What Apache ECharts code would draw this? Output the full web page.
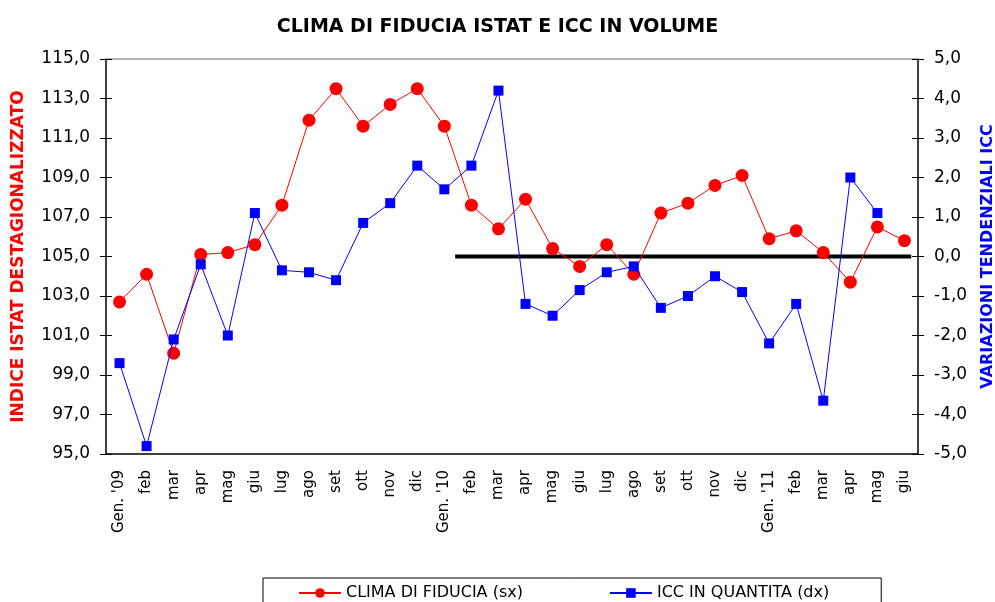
<!DOCTYPE html>
<html><head><meta charset="utf-8">
<script src="https://cdn.jsdelivr.net/npm/echarts@6/dist/echarts.min.js"></script>
<style>html,body{margin:0;padding:0;background:#fff}#c{width:995px;height:602px}</style>
</head><body><div id="c"></div>
<script>
const categories = ["Gen. '09","feb","mar","apr","mag","giu","lug","ago","set","ott","nov","dic",
  "Gen. '10","feb","mar","apr","mag","giu","lug","ago","set","ott","nov","dic",
  "Gen. '11","feb","mar","apr","mag","giu"];
const climaFiducia = [102.7,104.1,100.1,105.1,105.2,105.6,107.6,111.9,113.5,111.6,112.7,113.5,
  111.6,107.6,106.4,107.9,105.4,104.5,105.6,104.1,107.2,107.7,108.6,109.1,
  105.9,106.3,105.2,103.7,106.5,105.8];
const iccQuantita = [-2.7,-4.8,-2.1,-0.2,-2.0,1.1,-0.35,-0.4,-0.6,0.85,1.35,2.3,
  1.7,2.3,4.2,-1.2,-1.5,-0.85,-0.4,-0.25,-1.3,-1.0,-0.5,-0.9,
  -2.2,-1.2,-3.65,2.0,1.1,null];
const zeroLine = [[12.9,0],[29.75,0]];
const leftTicks = {min:95, max:115, interval:2};
const rightTicks = {min:-5, max:5, interval:1};

const FONT = 'DejaVu Sans';
const fmt = v => v.toFixed(1).replace('.', ',');
const chart = echarts.init(document.getElementById('c'), null, {renderer:'canvas'});
const tickOnly = (pos, r) => ({
  type:'value', position:pos, min:r.min, max:r.max, interval:r.interval,
  axisLine:{show:false}, axisLabel:{show:false}, splitLine:{show:false},
  axisTick:{show:true, inside:true, length:6, lineStyle:{color:'#000'}}
});
chart.setOption({
  animation:false,
  backgroundColor:'#fff',
  title:{text:'CLIMA DI FIDUCIA ISTAT E ICC IN VOLUME', left:'center', top:13,
    textStyle:{fontFamily:FONT, fontSize:19, fontWeight:'bold', color:'#000'}},
  grid:{left:106, right:77, top:59, bottom:148, containLabel:false, outerBoundsMode:'none'},
  legend:{left:263, top:578, orient:'horizontal', borderColor:'#000', borderWidth:1,
    padding:[7,52,12,35], itemGap:86, itemWidth:42, itemHeight:12,
    textStyle:{fontFamily:FONT, fontSize:16, color:'#000'},
    data:['CLIMA DI FIDUCIA (sx)','ICC IN QUANTITA (dx)']},
  xAxis:[{
    type:'category', data:categories, boundaryGap:true,
    axisLine:{onZero:false, lineStyle:{color:'#000', width:1.5}},
    axisTick:{show:false},
    axisLabel:{interval:0, rotate:90, margin:16, fontFamily:FONT, fontSize:15, color:'#000'}
  },{
    type:'value', position:'top', min:0, max:30,
    axisLine:{show:true, onZero:false, lineStyle:{color:'#999', width:1.5}},
    axisTick:{show:false}, axisLabel:{show:false}, splitLine:{show:false}
  }],
  yAxis:[{
    type:'value', position:'left', min:leftTicks.min, max:leftTicks.max, interval:leftTicks.interval,
    name:'INDICE ISTAT DESTAGIONALIZZATO', nameLocation:'middle', nameGap:79, nameRotate:90,
    nameTextStyle:{fontFamily:FONT, fontSize:17, fontWeight:'bold', color:'#ff0000'},
    axisLine:{show:true, onZero:false, lineStyle:{color:'#000', width:1.5}},
    axisTick:{show:true, length:6, lineStyle:{color:'#000'}},
    axisLabel:{formatter:fmt, margin:16, fontFamily:FONT, fontSize:17, color:'#000'},
    splitLine:{show:false}
  },{
    type:'value', position:'right', min:rightTicks.min, max:rightTicks.max, interval:rightTicks.interval,
    name:'VARIAZIONI TENDENZIALI ICC', nameLocation:'middle', nameGap:62, nameRotate:90,
    nameTextStyle:{fontFamily:FONT, fontSize:16, fontWeight:'bold', color:'#0000ff'},
    axisLine:{show:true, onZero:false, lineStyle:{color:'#000', width:1.5}},
    axisTick:{show:true, length:6, lineStyle:{color:'#000'}},
    axisLabel:{formatter:fmt, margin:16, fontFamily:FONT, fontSize:17, color:'#000'},
    splitLine:{show:false}
  }, tickOnly('left', leftTicks), tickOnly('right', rightTicks)],
  series:[{
    name:'CLIMA DI FIDUCIA (sx)', type:'line', xAxisIndex:0, yAxisIndex:0, data:climaFiducia,
    symbol:'circle', symbolSize:13, color:'#ff0000',
    lineStyle:{color:'#ff0000', width:1}, itemStyle:{color:'#ff0000'}, z:3
  },{
    name:'ICC IN QUANTITA (dx)', type:'line', xAxisIndex:0, yAxisIndex:1, data:iccQuantita,
    symbol:'rect', symbolSize:10, color:'#0000ff',
    lineStyle:{color:'#0000ff', width:1}, itemStyle:{color:'#0000ff'}, z:4
  },{
    name:'zero', type:'line', xAxisIndex:1, yAxisIndex:1, data:zeroLine,
    symbol:'none', lineStyle:{color:'#000', width:4}, z:2, silent:true
  }]
});
</script></body></html>
